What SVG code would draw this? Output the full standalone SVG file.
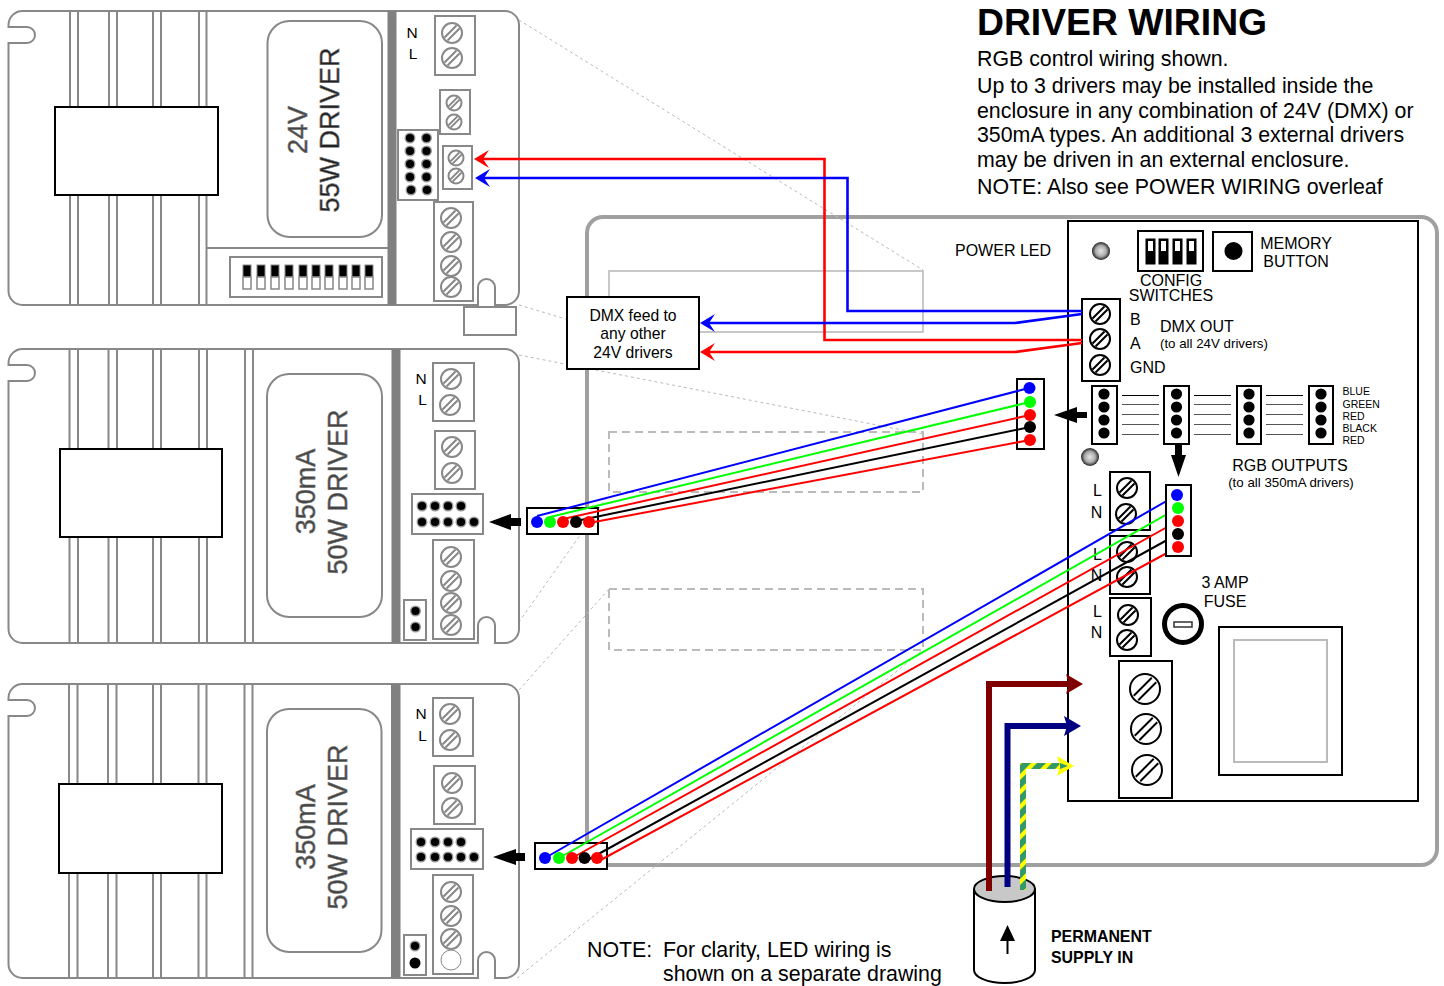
<svg xmlns="http://www.w3.org/2000/svg" width="1444" height="986" viewBox="0 0 1444 986">
<style>
text{font-family:"Liberation Sans",Arial,sans-serif;fill:#000}
.bg{fill:#fff}
.ol{fill:#fff;stroke:#888;stroke-width:2}
.fin{stroke:#888;stroke-width:2;fill:none}
.bar{fill:#808080}
.blk{fill:#fff;stroke:#000;stroke-width:2}
.gs{stroke:#888}
.ks{stroke:#000}
.dl{stroke:#bbb;stroke-width:1;stroke-dasharray:3 3;fill:none}
.ds{stroke:#bbb;stroke-width:2;stroke-dasharray:8 5;fill:none}
.w{fill:none;stroke-width:2}
.m{fill:none;stroke-width:6}
.d{fill:none;stroke-width:2.6}
.p{fill:#000;stroke:#999;stroke-width:1.4}
.lab{font-size:16px}
.sm{font-size:13.3px}
.tiny{font-size:10.5px}
.body{font-size:21.35px}
.drv{font-size:27px;fill:#444;stroke:#777;stroke-width:.6}
.nl{font-size:15.5px}
.bl{font-size:16px}
.hl{stroke:#555;stroke-width:1}
</style>
<defs>
<g id="sc"><circle r="10" fill="#fff" stroke-width="2" vector-effect="non-scaling-stroke"/><path d="M-7.5,4.5 L4.5,-7.5 M-4.5,7.5 L7.5,-4.5" fill="none" stroke-width="2" vector-effect="non-scaling-stroke"/></g>
<g id="dip"><rect width="8" height="12" fill="#000" stroke="#888"/><rect y="12" width="8" height="12" fill="#fff" stroke="#888" stroke-width="1.5"/></g>
<g id="cfg"><rect width="9" height="25" fill="#000" stroke="#000"/><rect x="2" y="2" width="5" height="10" fill="#fff"/></g>
<circle id="pin" r="4.8" class="p"/>
<circle id="kp" r="5.6" fill="#000"/>
<radialGradient id="led"><stop offset="0" stop-color="#e8e8e8"/><stop offset=".6" stop-color="#aaa"/><stop offset="1" stop-color="#222"/></radialGradient>
<pattern id="ge" width="15" height="15" patternUnits="userSpaceOnUse"><rect width="15" height="15" fill="#339966"/><path d="M0,9 L9,0 L15,0 L0,15Z M9,15 L15,9 L15,15Z" fill="#ffff00"/></pattern>
<marker id="aR" markerUnits="userSpaceOnUse" markerWidth="16" markerHeight="18" viewBox="0 0 16 18" refX="8" refY="9" orient="auto"><path d="M0,0 L15,9 L0,18 L6,9Z" fill="#f00"/></marker>
<marker id="aB" markerUnits="userSpaceOnUse" markerWidth="16" markerHeight="18" viewBox="0 0 16 18" refX="8" refY="9" orient="auto"><path d="M0,0 L15,9 L0,18 L6,9Z" fill="#00f"/></marker>
<marker id="aM" markerUnits="userSpaceOnUse" markerWidth="18" markerHeight="20" viewBox="0 0 18 20" refX="4" refY="10" orient="auto"><path d="M0,0 L17,10 L0,20 L3,10Z" fill="#800000"/></marker>
<marker id="aN" markerUnits="userSpaceOnUse" markerWidth="18" markerHeight="20" viewBox="0 0 18 20" refX="4" refY="10" orient="auto"><path d="M0,0 L17,10 L0,20 L3,10Z" fill="#000080"/></marker>
<marker id="aY" markerUnits="userSpaceOnUse" markerWidth="18" markerHeight="20" viewBox="0 0 18 20" refX="4" refY="10" orient="auto"><path d="M0,0 L17,10 L0,20 L3,10Z" fill="#ffff00"/><path d="M3,7 L11,10 L3,13Z" fill="#339966"/></marker>
</defs>
<rect class="bg" width="1444" height="986"/>

<g id="enclosure">
<rect x="587" y="217" width="850" height="648" rx="16" fill="#fff" stroke="#a0a0a0" stroke-width="4"/>
<rect x="609" y="271" width="314" height="61" fill="none" stroke="#bbb" stroke-width="1.6"/>
<rect class="ds" x="609" y="432" width="314" height="60"/>
<rect class="ds" x="609" y="589" width="314" height="61"/>
</g>
<g id="projection-lines">
<path class="dl" d="M519,20 L923,270 M519,305 L609,332 M519,355 L923,434 M505,642 L609,494 M519,690 L609,589 M517,978 L923,650"/>
</g>

<g id="driver-1">
<path class="ol" d="M8.5,27 V25 A14,14 0 0 1 22.5,11 H505 A14,14 0 0 1 519,25 V291 A14,14 0 0 1 505,305 H495 V287.5 A8.5,8.5 0 0 0 478,287.5 V305 H22.5 A14,14 0 0 1 8.5,291 V43 H27 A8,8 0 0 0 27,27 Z"/>
<path class="fin" d="M70,11V305 M78,11V305 M109,11V305 M117,11V305 M153,11V305 M161,11V305 M199,11V305 M206.5,11V305 M206.5,248H388"/>
<rect class="blk" x="55" y="107" width="163" height="88"/>
<rect class="bar" x="387.5" y="11" width="9" height="294"/>
<rect class="ol" x="267.5" y="21" width="114.5" height="216" rx="22"/>
<text class="drv" text-anchor="middle" transform="translate(307,130) rotate(-90)">24V</text>
<text class="drv" style="fill:#222" text-anchor="middle" transform="translate(339,130) rotate(-90)">55W DRIVER</text>
<rect class="ol" x="230" y="257" width="152" height="40"/>
<use href="#dip" x="243" y="265"/><use href="#dip" x="257" y="265"/><use href="#dip" x="271" y="265"/><use href="#dip" x="285" y="265"/><use href="#dip" x="299" y="265"/><use href="#dip" x="312" y="265"/><use href="#dip" x="325" y="265"/><use href="#dip" x="339" y="265"/><use href="#dip" x="352" y="265"/><use href="#dip" x="365" y="265"/>
<text class="nl" x="412" y="38" text-anchor="middle">N</text><text class="nl" x="413" y="59" text-anchor="middle">L</text>
<rect class="ol" x="435" y="16" width="40" height="59"/>
<g class="gs"><use href="#sc" x="452" y="33"/><use href="#sc" x="452" y="58"/></g>
<rect class="ol" x="440" y="90" width="30" height="44"/>
<g class="gs"><use href="#sc" transform="translate(454,103) scale(.75)"/><use href="#sc" transform="translate(454,122) scale(.75)"/></g>
<rect class="ol" x="398" y="130" width="40" height="70"/>
<use href="#pin" x="410" y="138"/><use href="#pin" x="426.5" y="138"/><use href="#pin" x="410" y="151"/><use href="#pin" x="426.5" y="151"/><use href="#pin" x="410" y="164"/><use href="#pin" x="426.5" y="164"/><use href="#pin" x="410" y="177"/><use href="#pin" x="426.5" y="177"/><use href="#pin" x="411" y="190"/><use href="#pin" x="427" y="190"/>
<rect class="ol" x="443" y="146" width="29" height="43"/>
<g class="gs"><use href="#sc" transform="translate(456,158) scale(.75)"/><use href="#sc" transform="translate(456,176) scale(.75)"/></g>
<rect class="ol" x="434" y="202" width="39" height="99"/>
<g class="gs"><use href="#sc" x="451" y="218"/><use href="#sc" x="451" y="242"/><use href="#sc" x="451" y="266"/><use href="#sc" x="451" y="287"/></g>
<rect class="ol" x="464" y="307" width="52" height="28"/>
</g>

<g id="driver-2">
<path class="ol" d="M8.5,365 V363 A14,14 0 0 1 22.5,349 H505 A14,14 0 0 1 519,363 V629 A14,14 0 0 1 505,643 H495 V625.5 A8.5,8.5 0 0 0 478,625.5 V643 H22.5 A14,14 0 0 1 8.5,629 V381 H27 A8,8 0 0 0 27,365 Z"/>
<path class="fin" d="M69.5,349V643 M78,349V643 M108.5,349V643 M117,349V643 M153,349V643 M161,349V643 M199,349V643 M207,349V643 M245,349V643 M253,349V643"/>
<rect class="blk" x="60" y="449" width="162" height="88"/>
<rect class="bar" x="391.5" y="349" width="9" height="294"/>
<rect class="ol" x="267" y="374" width="115" height="243" rx="22"/>
<text class="drv" text-anchor="middle" transform="translate(315,491.5) rotate(-90)">350mA</text>
<text class="drv" text-anchor="middle" transform="translate(347,492) rotate(-90)">50W DRIVER</text>
<text class="nl" x="421" y="384" text-anchor="middle">N</text><text class="nl" x="422.5" y="405" text-anchor="middle">L</text>
<rect class="ol" x="433" y="363" width="41" height="58"/>
<g class="gs"><use href="#sc" x="451" y="379"/><use href="#sc" x="450" y="405"/></g>
<rect class="ol" x="435" y="431" width="40" height="58"/>
<g class="gs"><use href="#sc" x="452" y="447"/><use href="#sc" x="452" y="473"/></g>
<rect class="ol" x="412" y="494" width="71" height="40"/>
<use href="#pin" x="422" y="506"/><use href="#pin" x="435" y="506"/><use href="#pin" x="448" y="506"/><use href="#pin" x="461" y="506"/><use href="#pin" x="422" y="522"/><use href="#pin" x="435" y="522"/><use href="#pin" x="448" y="522"/><use href="#pin" x="461" y="522"/><use href="#pin" x="474" y="522"/>
<rect class="ol" x="433" y="540" width="41" height="99"/>
<g class="gs"><use href="#sc" x="451" y="557"/><use href="#sc" x="451" y="581"/><use href="#sc" x="451" y="603"/><use href="#sc" x="451" y="625"/></g>
<rect class="ol" x="404" y="600" width="22" height="40"/>
<use href="#pin" x="415.5" y="611"/><use href="#pin" x="415.5" y="627"/>
<path fill="#000" d="M489,522 L511,514 V518 H521 V526 H511 V530Z"/>
</g>

<g id="driver-3">
<path class="ol" d="M8.5,700 V698 A14,14 0 0 1 22.5,684 H505 A14,14 0 0 1 519,698 V964 A14,14 0 0 1 505,978 H495 V960.5 A8.5,8.5 0 0 0 478,960.5 V978 H22.5 A14,14 0 0 1 8.5,964 V716 H27 A8,8 0 0 0 27,700 Z"/>
<path class="fin" d="M69,684V978 M77.5,684V978 M108,684V978 M116.5,684V978 M153,684V978 M161,684V978 M198.5,684V978 M206.5,684V978 M244.5,684V978 M252.5,684V978"/>
<rect class="blk" x="59" y="784" width="163" height="89"/>
<rect class="bar" x="391" y="684" width="9.5" height="294"/>
<rect class="ol" x="267" y="709" width="114.5" height="243" rx="22"/>
<text class="drv" text-anchor="middle" transform="translate(315,827) rotate(-90)">350mA</text>
<text class="drv" text-anchor="middle" transform="translate(347,827) rotate(-90)">50W DRIVER</text>
<text class="nl" x="421" y="719" text-anchor="middle">N</text><text class="nl" x="422.5" y="741" text-anchor="middle">L</text>
<rect class="ol" x="433" y="698" width="40" height="58"/>
<g class="gs"><use href="#sc" x="450" y="714"/><use href="#sc" x="450" y="740"/></g>
<rect class="ol" x="434" y="766" width="41" height="58"/>
<g class="gs"><use href="#sc" x="452" y="783"/><use href="#sc" x="452" y="808"/></g>
<rect class="ol" x="411" y="829" width="72" height="40"/>
<use href="#pin" x="421" y="842"/><use href="#pin" x="435" y="842"/><use href="#pin" x="448" y="842"/><use href="#pin" x="461" y="842"/><use href="#pin" x="421" y="857"/><use href="#pin" x="435" y="857"/><use href="#pin" x="448" y="857"/><use href="#pin" x="461" y="857"/><use href="#pin" x="474" y="857"/>
<rect class="ol" x="433" y="875" width="40" height="99"/>
<g class="gs"><use href="#sc" x="451" y="892"/><use href="#sc" x="451" y="916"/><use href="#sc" x="451" y="939"/></g>
<circle cx="451" cy="960" r="10" fill="#fff" stroke="#888"/>
<rect class="ol" x="404" y="935" width="22" height="40"/>
<use href="#pin" x="415" y="946"/><circle cx="415" cy="963" r="5.5" fill="#000"/>
<path fill="#000" d="M493,857 L516,849 V853 H525 V861 H516 V865Z"/>
</g>

<g id="dmx-feed-box">
<rect class="blk" x="567" y="297" width="132" height="72"/>
<text x="633" y="321" font-size="15.7" text-anchor="middle">DMX feed to</text>
<text x="633" y="339" font-size="15.7" text-anchor="middle">any other</text>
<text x="633" y="358" font-size="15.7" text-anchor="middle">24V drivers</text>
</g>

<g id="control-board">
<rect x="1068" y="221" width="350" height="580" fill="#fff" stroke="#000" stroke-width="2"/>
<text class="lab" x="955" y="256">POWER LED</text>
<circle cx="1101" cy="251" r="9" fill="url(#led)"/>
<circle cx="1090" cy="457" r="9" fill="url(#led)"/>
<rect class="blk" x="1138" y="231" width="65" height="40"/>
<use href="#cfg" x="1146" y="239"/><use href="#cfg" x="1159" y="239"/><use href="#cfg" x="1173" y="239"/><use href="#cfg" x="1187" y="239"/>
<text class="lab" x="1171" y="286" text-anchor="middle">CONFIG</text>
<text class="lab" x="1171" y="301" text-anchor="middle">SWITCHES</text>
<rect class="blk" x="1213" y="232" width="39" height="39"/>
<circle cx="1233.5" cy="251" r="9" fill="#000"/>
<text class="lab" x="1296" y="249" text-anchor="middle">MEMORY</text>
<text class="lab" x="1296" y="267" text-anchor="middle">BUTTON</text>
<rect class="blk" x="1082" y="299" width="38" height="82"/>
<g class="ks"><use href="#sc" x="1100" y="314"/><use href="#sc" x="1100" y="339"/><use href="#sc" x="1100" y="365"/></g>
<text class="lab" x="1130" y="325">B</text><text class="lab" x="1130" y="349">A</text><text class="lab" x="1130" y="373">GND</text>
<text class="lab" x="1160" y="332">DMX OUT</text>
<text class="sm" x="1160" y="348">(to all 24V drivers)</text>
<rect class="blk" x="1092" y="386" width="25" height="58"/><rect class="blk" x="1164" y="386" width="25" height="58"/><rect class="blk" x="1237" y="386" width="24" height="58"/><rect class="blk" x="1309" y="386" width="24" height="58"/>
<use href="#kp" x="1104" y="394"/><use href="#kp" x="1104" y="407"/><use href="#kp" x="1104" y="420"/><use href="#kp" x="1104" y="433"/>
<use href="#kp" x="1176.5" y="394"/><use href="#kp" x="1176.5" y="407"/><use href="#kp" x="1176.5" y="420"/><use href="#kp" x="1176.5" y="433"/>
<use href="#kp" x="1249" y="394"/><use href="#kp" x="1249" y="407"/><use href="#kp" x="1249" y="420"/><use href="#kp" x="1249" y="433"/>
<use href="#kp" x="1321" y="394"/><use href="#kp" x="1321" y="407"/><use href="#kp" x="1321" y="420"/><use href="#kp" x="1321" y="433"/>
<path class="hl" d="M1122,404.500H1159 M1122,414.500H1159 M1122,424.500H1159 M1122,434.500H1159 M1194,404.500H1231 M1194,414.500H1231 M1194,424.500H1231 M1194,434.500H1231 M1266,404.500H1303 M1266,414.500H1303 M1266,424.500H1303 M1266,434.500H1303"/>
<path stroke="#000" stroke-width="1" d="M1122,395.500H1159 M1194,395.500H1231 M1266,395.500H1303"/>
<text class="tiny" x="1342.500" y="395">BLUE</text><text class="tiny" x="1342.500" y="408">GREEN</text><text class="tiny" x="1342.500" y="420">RED</text><text class="tiny" x="1342.500" y="432">BLACK</text><text class="tiny" x="1342.500" y="444">RED</text>
<text class="lab" x="1290" y="471" text-anchor="middle">RGB OUTPUTS</text>
<text class="sm" x="1291" y="487" text-anchor="middle">(to all 350mA drivers)</text>
<path fill="#000" d="M1054,415 L1077,407 V412 H1087 V418 H1077 V423Z"/>
<path fill="#000" d="M1178.500,477 L1171,455 H1175 V445 H1182 V455 H1186Z"/>
<rect class="blk" x="1110" y="472" width="40" height="58"/>
<g class="ks"><use href="#sc" x="1127" y="488"/><use href="#sc" x="1126" y="514"/></g>
<rect class="blk" x="1110" y="536" width="40" height="58"/>
<g class="ks"><use href="#sc" x="1127" y="552"/><use href="#sc" x="1127" y="577"/></g>
<rect class="blk" x="1110" y="598" width="41" height="58"/>
<g class="ks"><use href="#sc" x="1128" y="615"/><use href="#sc" x="1127" y="640"/></g>
<text class="bl" x="1097.500" y="496" text-anchor="middle">L</text><text class="bl" x="1096.500" y="518" text-anchor="middle">N</text>
<text class="bl" x="1097.500" y="560" text-anchor="middle">L</text><text class="bl" x="1096.500" y="581" text-anchor="middle">N</text>
<text class="bl" x="1097.500" y="617" text-anchor="middle">L</text><text class="bl" x="1096.500" y="638" text-anchor="middle">N</text>
<rect class="blk" x="1119" y="661" width="53" height="137"/>
<g class="ks"><use href="#sc" transform="translate(1145,689) scale(1.5)"/><use href="#sc" transform="translate(1146,729) scale(1.5)"/><use href="#sc" transform="translate(1147,770) scale(1.5)"/></g>
<circle cx="1183" cy="624" r="18.500" fill="#fff" stroke="#000" stroke-width="5"/>
<rect x="1174" y="622" width="18" height="5" fill="#fff" stroke="#333" stroke-width="1.5"/>
<text class="lab" x="1225" y="588" text-anchor="middle">3 AMP</text>
<text class="lab" x="1225" y="607" text-anchor="middle">FUSE</text>
<rect class="blk" x="1219" y="627" width="123" height="148"/>
<rect x="1234" y="640" width="93" height="122" fill="none" stroke="#bbb" stroke-width="2"/>
</g>

<g id="rgb-block-a-base"><rect class="blk" x="527" y="508" width="71" height="26"/></g>
<g id="rgb-block-b-base"><rect class="blk" x="535" y="843" width="72" height="26"/></g>
<g id="rgb-block-c-base"><rect class="blk" x="1017" y="379" width="27" height="70"/></g>
<g id="supply-gland">
<path d="M974,889 V970 A30.500,13 0 0 0 1035,970 V889" fill="#fff" stroke="#000" stroke-width="2"/>
<ellipse cx="1004.500" cy="889" rx="30.500" ry="13" fill="#c8c8c8" stroke="#000" stroke-width="2"/>
<path d="M1007.500,954 V935" stroke="#000" stroke-width="2"/>
<path d="M1007.500,925 L1015,941 H1000Z" fill="#000"/>
<text x="1051" y="942" font-size="15.900" font-weight="bold">PERMANENT</text>
<text x="1051" y="963" font-size="15.900" font-weight="bold">SUPPLY IN</text>
</g>

<g id="connectors">
<path class="d" stroke="#f00" marker-end="url(#aR)" d="M1082,340 H824.500 V159 H481"/>
<path class="d" stroke="#00f" marker-end="url(#aB)" d="M1082,311 H847.500 V178 H482"/>
<path class="d" stroke="#00f" marker-end="url(#aB)" d="M1082,314 L1015,323 H707"/>
<path class="d" stroke="#f00" marker-end="url(#aR)" d="M1082,343 L1015,352 H707"/>
<path class="w" stroke="#00f" d="M537,516 L1029,388"/>
<path class="w" stroke="#0f0" d="M550,517 L1030,402"/>
<path class="w" stroke="#f00" d="M563,519 L1030,415"/>
<path class="w" stroke="#000" d="M576,521 L1030,427"/>
<path class="w" stroke="#f00" d="M589,523 L1030,440"/>
<path class="w" stroke="#00f" d="M545,858 L1177,495"/>
<path class="w" stroke="#0f0" d="M559,858 L1178,508"/>
<path class="w" stroke="#f00" d="M572,858 L1178,521"/>
<path class="w" stroke="#000" d="M584,862 L1178,534"/>
<path class="w" stroke="#f00" d="M597,862 L1178,547"/>
<path class="m" stroke="#800000" marker-end="url(#aM)" d="M989,891 V684 H1070"/>
<path class="m" stroke="#000080" marker-end="url(#aN)" d="M1007.500,887 V726 H1068"/>
<path class="m" stroke="url(#ge)" marker-end="url(#aY)" d="M1023,890 V766 H1061"/>
</g>

<g id="rgb-block-a">
<circle cx="537" cy="522" r="6" fill="#00f"/><circle cx="550" cy="522" r="6" fill="#0f0"/><circle cx="563" cy="522" r="6" fill="#f00"/><circle cx="576" cy="522" r="6" fill="#000"/><circle cx="589" cy="522" r="6" fill="#f00"/>
</g>
<g id="rgb-block-b">
<circle cx="545" cy="858" r="6" fill="#00f"/><circle cx="559" cy="858" r="6" fill="#0f0"/><circle cx="572" cy="858" r="6" fill="#f00"/><circle cx="584.500" cy="858" r="6" fill="#000"/><circle cx="597" cy="858" r="6" fill="#f00"/>
</g>
<g id="rgb-block-c">
<circle cx="1029.500" cy="388" r="6" fill="#00f"/><circle cx="1030" cy="402" r="6" fill="#0f0"/><circle cx="1030" cy="415" r="6" fill="#f00"/><circle cx="1030" cy="427" r="6" fill="#000"/><circle cx="1030" cy="440" r="6" fill="#f00"/>
</g>
<g id="rgb-block-d">
<rect class="blk" x="1166" y="485" width="25" height="71"/>
<circle cx="1177" cy="495" r="6" fill="#00f"/><circle cx="1178" cy="508" r="6" fill="#0f0"/><circle cx="1178" cy="521" r="6" fill="#f00"/><circle cx="1178" cy="534" r="6" fill="#000"/><circle cx="1178" cy="547" r="6" fill="#f00"/>
</g>

<g id="title-notes">
<text x="977" y="35" font-size="37.300" font-weight="bold">DRIVER WIRING</text>
<text class="body" x="977" y="66">RGB control wiring shown.</text>
<text class="body" x="977" y="93">Up to 3 drivers may be installed inside the</text>
<text class="body" x="977" y="118">enclosure in any combination of 24V (DMX) or</text>
<text class="body" x="977" y="142">350mA types. An additional 3 external drivers</text>
<text class="body" x="977" y="167">may be driven in an external enclosure.</text>
<text class="body" x="977" y="194">NOTE: Also see POWER WIRING overleaf</text>
<text class="body" x="587" y="957">NOTE:</text>
<text class="body" x="663" y="957">For clarity, LED wiring is</text>
<text class="body" x="663" y="981">shown on a separate drawing</text>
</g>
</svg>
